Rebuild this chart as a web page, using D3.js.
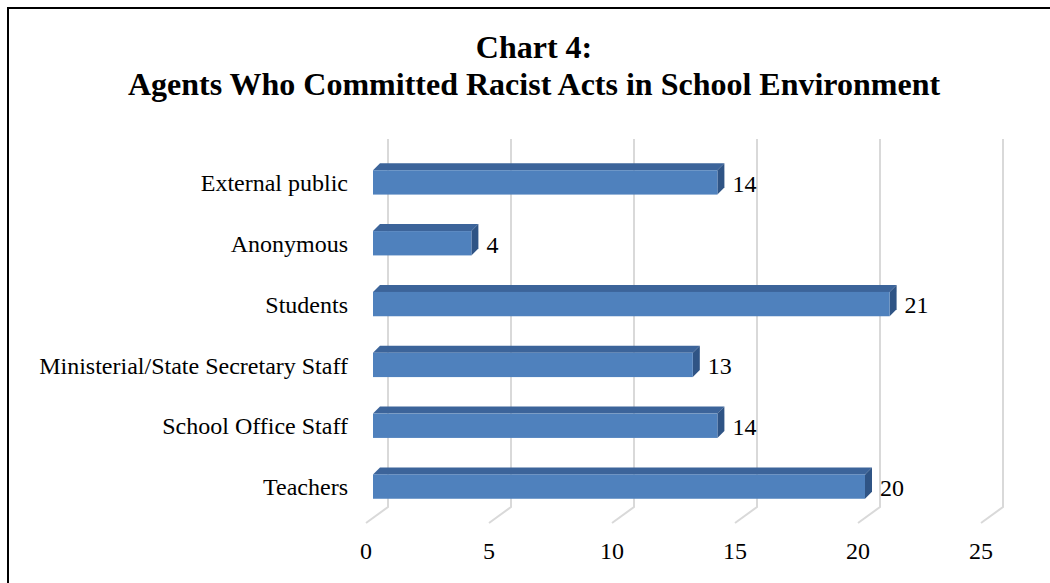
<!DOCTYPE html>
<html>
<head>
<meta charset="utf-8">
<script src="https://cdn.jsdelivr.net/npm/d3@7"></script>
<style>
    body { margin: 0; background: #fff; }
    svg { display: block; }
    text { font-family: "Liberation Serif", "Times New Roman", serif; fill: #000; }
</style>
</head>
<body>
<svg id="chart" width="1050" height="583"></svg>
<script>
const categorias = ["External public", "Anonymous", "Students", "Ministerial/State Secretary Staff", "School Office Staff", "Teachers"];
const valores = [14, 4, 21, 13, 14, 20];
const ticks = [0, 5, 10, 15, 20, 25];
const titulo = ["Chart 4:", "Agents Who Committed Racist Acts in School Environment"];

const svg = d3.select("#chart");
const fonte = "'Liberation Serif', 'Times New Roman', serif";

// moldura (só topo e esquerda aparecem)
svg.append("path")
    .attr("d", "M8,583 V8 H1050")
    .attr("fill", "none")
    .attr("stroke", "#000")
    .attr("stroke-width", 2);

svg.selectAll("text.titulo")
    .data(titulo)
    .enter()
    .append("text")
    .attr("class", "titulo")
    .attr("x", 534)
    .attr("y", (d, i) => 58 + i * 37)
    .attr("text-anchor", "middle")
    .style("font-size", "32px")
    .style("font-weight", "bold")
    .text(d => d);

let x = d3.scaleLinear().domain([0, 25]).range([373, 988]);
let y = d3.scaleBand().domain(categorias).range([152, 517]).paddingInner(0.6).paddingOuter(0.3);

// deslocamentos da perspectiva 3D
let fundo = { dx: 15, dy: 0 },   // parede do fundo (grade)
    chao = { dx: -7, dy: 16 },   // onde a grade termina no chão
    prof = { dx: 7, dy: -7 };    // profundidade das barras

let topoGrade = 139, baseGrade = 507;

// grade
let grade = svg.append("g").attr("class", "grade");
grade.selectAll("path")
    .data(ticks)
    .enter()
    .append("path")
    .attr("d", v => `M${x(v) + fundo.dx},${topoGrade} V${baseGrade} L${x(v) + chao.dx},${baseGrade + chao.dy}`)
    .attr("fill", "none")
    .attr("stroke", "#d9d9d9")
    .attr("stroke-width", 2);

// eixo x
let eixo = d3.axisBottom(x).tickValues(ticks).tickSize(0).tickPadding(0);
let gEixo = svg.append("g")
    .attr("transform", `translate(${chao.dx - 0.5}, 559)`)
    .call(eixo);
gEixo.select(".domain").remove();
gEixo.selectAll("text")
    .attr("dy", 0)
    .attr("y", 0)
    .style("font-family", fonte)
    .style("font-size", "24px")
    .style("fill", "#000");

// eixo y (rótulos)
let eixoY = d3.axisLeft(y).tickSize(0).tickPadding(0);
let gEixoY = svg.append("g")
    .attr("transform", "translate(348, 1)")
    .call(eixoY);
gEixoY.select(".domain").remove();
gEixoY.selectAll("text")
    .style("font-family", fonte)
    .style("font-size", "24px")
    .style("fill", "#000");

// barras 3D
let dados = categorias.map((c, i) => ({ categoria: c, valor: valores[i] }));
let barras = svg.selectAll("g.barra")
    .data(dados)
    .enter()
    .append("g")
    .attr("class", "barra");

// topo
barras.append("path")
    .attr("d", d => {
        let x0 = x(0), x1 = x(d.valor), y0 = y(d.categoria);
        return `M${x0},${y0} L${x0 + prof.dx},${y0 + prof.dy} L${x1 + prof.dx},${y0 + prof.dy} L${x1},${y0} Z`;
    })
    .attr("fill", "#3C649A");

// lateral
barras.append("path")
    .attr("d", d => {
        let x1 = x(d.valor), y0 = y(d.categoria), y1 = y0 + y.bandwidth();
        return `M${x1},${y0} L${x1 + prof.dx},${y0 + prof.dy} L${x1 + prof.dx},${y1 + prof.dy} L${x1},${y1} Z`;
    })
    .attr("fill", "#2F5485");

// frente
barras.append("rect")
    .attr("x", x(0))
    .attr("y", d => y(d.categoria))
    .attr("width", d => x(d.valor) - x(0))
    .attr("height", y.bandwidth())
    .attr("fill", "#4F81BD");

// valores
barras.append("text")
    .attr("x", d => x(d.valor) + prof.dx + 8)
    .attr("y", d => y(d.categoria) + y.bandwidth() / 2 + 1)
    .attr("dy", "0.35em")
    .style("font-size", "24px")
    .text(d => d.valor);
</script>
</body>
</html>
